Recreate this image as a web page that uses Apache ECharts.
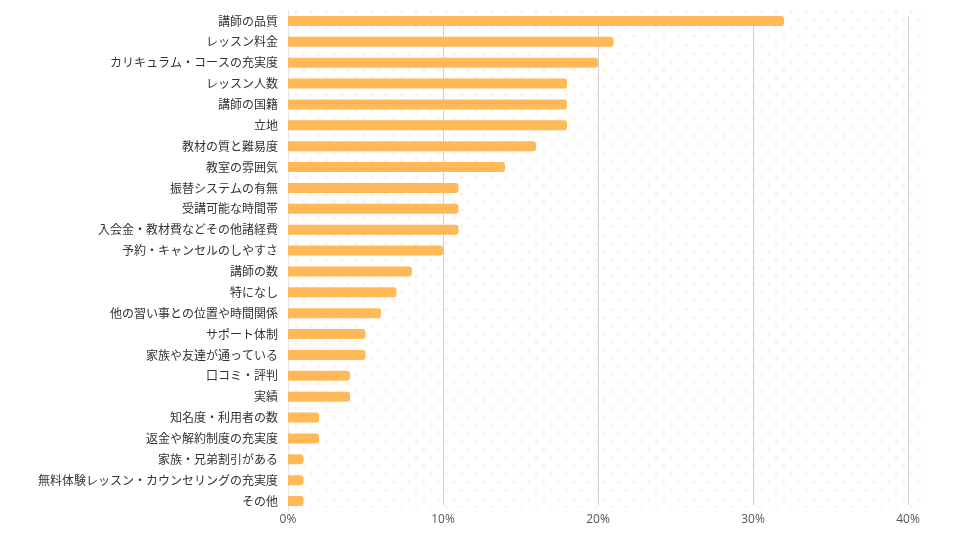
<!DOCTYPE html>
<html>
<head>
<meta charset="utf-8">
<script src="https://cdn.jsdelivr.net/npm/echarts@6/dist/echarts.min.js"></script>
<style>html,body{margin:0;padding:0;background:#fff;}#c{width:960px;height:540px;}</style>
</head>
<body>
<div id="c"></div>
<script>
const categories = [
  '講師の品質','レッスン料金','カリキュラム・コースの充実度','レッスン人数','講師の国籍','立地',
  '教材の質と難易度','教室の雰囲気','振替システムの有無','受講可能な時間帯','入会金・教材費などその他諸経費',
  '予約・キャンセルのしやすさ','講師の数','特になし','他の習い事との位置や時間関係','サポート体制',
  '家族や友達が通っている','口コミ・評判','実績','知名度・利用者の数','返金や解約制度の充実度',
  '家族・兄弟割引がある','無料体験レッスン・カウンセリングの充実度','その他'
];
const values = [32,21,20,18,18,18,16,14,11,11,11,10,8,7,6,5,5,4,4,2,2,1,1,1];
const xTicks = [0,10,20,30,40];

// dotted background pattern
const pc = document.createElement('canvas');
pc.width = 30; pc.height = 33;
const ctx = pc.getContext('2d');
ctx.fillStyle = '#FFF5E6';
const rows = [4.1, 12.35, 20.6, 28.85];
rows.forEach((ry, i) => {
  const xs = (i % 2 === 0) ? [3.75, 18.75] : [11.25, 26.25];
  xs.forEach(rx => { ctx.beginPath(); ctx.arc(rx, ry, 2, 0, Math.PI * 2); ctx.fill(); });
});

const chart = echarts.init(document.getElementById('c'), null, {renderer: 'canvas'});
const fontJP = '"Noto Sans CJK JP", "Noto Sans", sans-serif';
chart.setOption({
  animation: false,
  grid: [
    {left: 288, right: 52, top: 10.5, bottom: 28.5, containLabel: false},
    {left: 288, right: 52, top: 16, bottom: 35},
    {left: 288, right: 35, top: 6, bottom: 32, show: true, borderWidth: 0,
     backgroundColor: {image: pc, repeat: 'repeat'}, z: -1}
  ],
  xAxis: [
    {gridIndex: 0, type: 'value', min: 0, max: 40, show: false},
    {gridIndex: 1, type: 'value', min: 0, max: 40, interval: 10,
     axisLine: {show: false}, axisTick: {show: false},
     splitLine: {show: true, lineStyle: {color: '#d0d0d0', width: 1}},
     axisLabel: {formatter: v => xTicks.includes(v) ? v + '%' : '', color: '#555', fontSize: 12,
                 fontFamily: '"Open Sans", "Noto Sans", sans-serif', margin: 9}},
    {gridIndex: 2, type: 'value', show: false}
  ],
  yAxis: [
    {gridIndex: 0, type: 'category', data: categories, inverse: true,
     axisLine: {show: true, lineStyle: {color: '#e6e6e6'}}, axisTick: {show: false},
     axisLabel: {color: '#333', fontSize: 12, fontFamily: fontJP, margin: 10}},
    {gridIndex: 1, type: 'value', show: false},
    {gridIndex: 2, type: 'value', show: false}
  ],
  series: [{
    type: 'bar', xAxisIndex: 0, yAxisIndex: 0, data: values, barWidth: 10,
    itemStyle: {color: '#FFBA57', borderRadius: [0, 3, 3, 0]}, z: 3
  }]
});
</script>
</body>
</html>
